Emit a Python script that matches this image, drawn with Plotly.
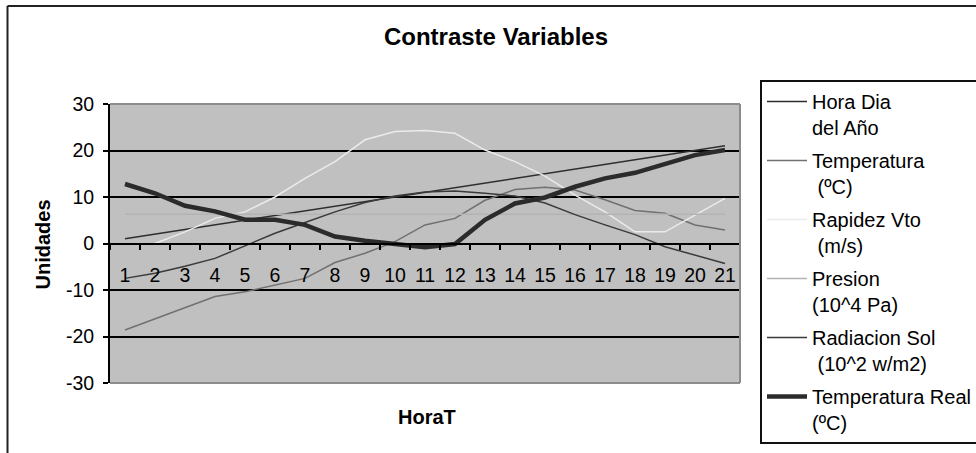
import plotly.graph_objects as go

W, H = 976, 453

# Hours on the category axis
horas = [str(h) for h in range(1, 22)]

# Series values, one per hour
hora_dia = [1, 2, 3, 4, 5, 6, 7, 8, 9, 10, 11, 12, 13, 14, 15, 16, 17, 18, 19, 20, 21]
temperatura = [-18.6, -16.2, -13.8, -11.4, -10.4, -8.9, -7.5, -4.1, -2.1, 0.4, 4.0,
               5.4, 9.3, 11.6, 12.1, 11.5, 9.4, 7.1, 6.5, 4.0, 2.9]
rapidez_vto = [None, 0.0, 2.5, 5.4, 6.8, 10.0, 14.0, 17.6, 22.3, 24.1, 24.3,
               23.7, 20.1, 17.6, 14.5, 10.4, 6.8, 2.5, 2.5, 6.1, 9.7]
presion = [6.3, 6.3, 6.3, 6.3, 6.3, 6.3, 6.3, 6.3, 6.3, 6.3, 6.3,
           6.3, 6.3, 6.3, 6.3, 6.3, 6.3, 6.3, 6.3, 6.3, 6.3]
radiacion_sol = [-7.5, -6.4, -4.9, -3.2, -0.5, 2.2, 4.5, 6.8, 8.8, 10.2, 11.1,
                 11.3, 10.8, 10.2, 8.7, 6.2, 4.0, 1.9, -0.7, -2.5, -4.3]
temperatura_real = [12.8, 10.8, 8.1, 6.9, 5.1, 5.1, 4.0, 1.5, 0.6, 0.0, -0.8,
                    -0.1, 5.1, 8.6, 9.9, 12.2, 14.0, 15.2, 17.2, 19.0, 20.1]

y_ticks = [-30, -20, -10, 0, 10, 20, 30]
y_tick_text = ["-30", "-20", "-10", "0", "10", "20", "30"]

series = [
    ("Hora Dia<br>del Año", hora_dia, "#2e2e2e", 1.5),
    ("Temperatura<br>\u00a0(ºC)", temperatura, "#707070", 1.5),
    ("Rapidez Vto<br>\u00a0(m/s)", rapidez_vto, "#ebebeb", 1.5),
    ("Presion<br>(10^4 Pa)", presion, "#b3b3b3", 1.5),
    ("Radiacion Sol<br>\u00a0(10^2 w/m2)", radiacion_sol, "#3a3a3a", 1.5),
    ("Temperatura Real<br>(ºC)", temperatura_real, "#2b2b2b", 4.5),
]

FONT = "Liberation Sans, Arial, sans-serif"

fig = go.Figure()
for i, (name, vals, color, width) in enumerate(series):
    fig.add_trace(go.Scatter(
        x=horas, y=vals, name=name, mode="lines",
        line=dict(color=color, width=width),
        legendgroup=f"g{i}",
        connectgaps=False,
    ))

# plot area in pixels
px_l, px_r, px_t, px_b = 110, 740, 104, 383
dom_x = [px_l / W, px_r / W]
dom_y = [1 - px_b / H, 1 - px_t / H]

fig.update_layout(
    width=W, height=H,
    margin=dict(l=0, r=0, t=0, b=0, autoexpand=False),
    paper_bgcolor="white",
    plot_bgcolor="#c0c0c0",
    font=dict(family=FONT, color="black", size=19.5),
    showlegend=True,
    title=dict(
        text="<b>Contraste Variables</b>",
        x=496 / W, xanchor="center",
        y=1 - 37 / H, yanchor="middle",
        font=dict(size=24, family=FONT, color="black"),
    ),
    xaxis=dict(
        type="category",
        domain=dom_x,
        range=[-0.5, len(horas) - 0.5],
        anchor="free",
        position=(dom_y[0] + dom_y[1]) / 2,
        showgrid=False,
        showline=True, linecolor="black", linewidth=2,
        ticks="outside", ticklen=5, tickwidth=1.5, tickcolor="black",
        tickson="boundaries",
        tickangle=0,
        ticklabelstandoff=14,
        tickfont=dict(size=19.5),
        layer="above traces",
        fixedrange=True,
    ),
    yaxis=dict(
        domain=dom_y,
        range=[-30, 30],
        tickvals=y_ticks,
        ticktext=y_tick_text,
        showgrid=True, gridcolor="black", gridwidth=1.5,
        zeroline=False,
        showline=True, linecolor="black", linewidth=2,
        ticks="outside", ticklen=5, tickwidth=1.5, tickcolor="black",
        ticklabelstandoff=5,
        tickfont=dict(size=19.5),
        fixedrange=True,
    ),
    legend=dict(
        x=760 / W, xanchor="left",
        y=1 - 80 / H, yanchor="top",
        bgcolor="white",
        bordercolor="#111111", borderwidth=2,
        font=dict(size=20, family=FONT, color="black"),
        valign="top",
        traceorder="grouped",
        tracegroupgap=4,
        itemwidth=40,
    ),
)

# axis titles
fig.add_annotation(text="<b>Unidades</b>", x=42.5 / W, y=1 - 245 / H,
                   xref="paper", yref="paper", textangle=-90, showarrow=False,
                   xanchor="center", yanchor="middle",
                   font=dict(size=20, family=FONT, color="black"))
fig.add_annotation(text="<b>HoraT</b>", x=427 / W, y=1 - 417 / H,
                   xref="paper", yref="paper", showarrow=False,
                   xanchor="center", yanchor="middle",
                   font=dict(size=20, family=FONT, color="black"))

# grey frame around the top, right and bottom of the plotting area
for x0, y0, x1, y1 in [(px_l, px_t, px_r, px_t), (px_r, px_t, px_r, px_b),
                       (px_l, px_b, px_r, px_b)]:
    fig.add_shape(type="line", xref="paper", yref="paper",
                  x0=x0 / W, y0=1 - y0 / H, x1=x1 / W, y1=1 - y1 / H,
                  line=dict(color="#8c8c8c", width=2), layer="above")

# outer chart border
fig.add_shape(type="line", xref="paper", yref="paper",
              x0=7.5 / W, y0=1 - 6 / H, x1=1.0, y1=1 - 6 / H,
              line=dict(color="#222222", width=2))
fig.add_shape(type="line", xref="paper", yref="paper",
              x0=7.5 / W, y0=1 - 6 / H, x1=7.5 / W, y1=0,
              line=dict(color="#222222", width=2))

fig.write_html("out.html", config={"displayModeBar": False})
